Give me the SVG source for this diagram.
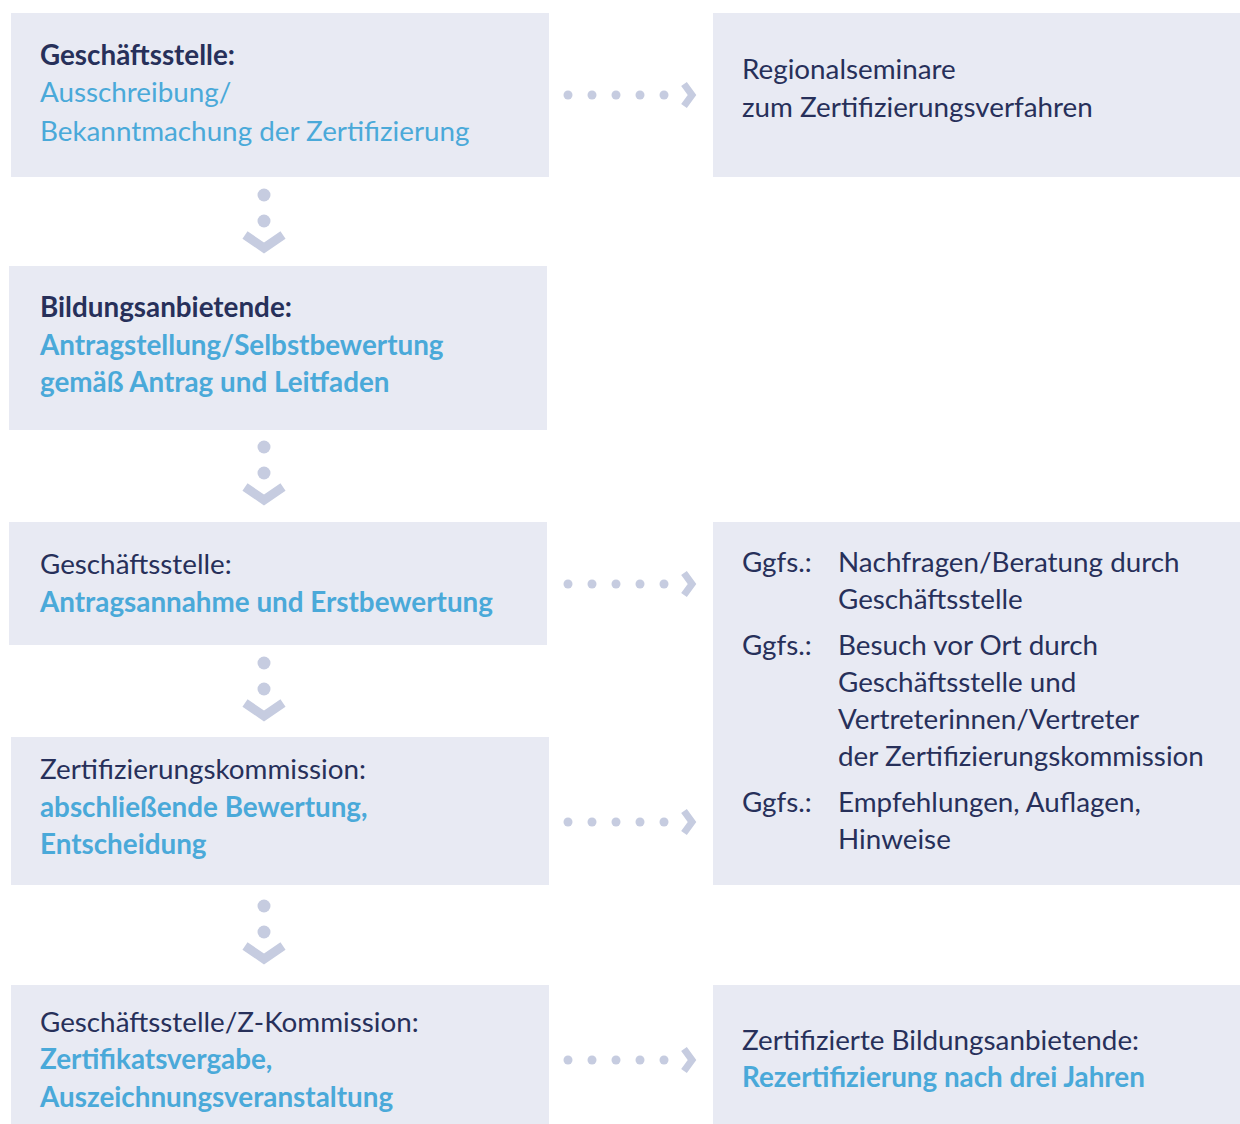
<svg xmlns="http://www.w3.org/2000/svg" width="1240" height="1124" viewBox="0 0 1240 1124">
<style>
.box{fill:#e8eaf3}
text{font-family:Lato,"Noto Sans","DejaVu Sans",sans-serif;font-size:27.8px;fill:#27305a}
.b{font-weight:bold}
.blue{fill:#4aa9d9}
.dot{fill:#c6cce0}
.chev{fill:none;stroke:#c6cce0;stroke-width:7;stroke-linejoin:miter}
</style>
<rect width="1240" height="1124" fill="#ffffff"/>
<g id="n1"><rect class="box" x="11" y="13" width="538" height="164"/>
<text x="40" y="65" class="b">Geschäftsstelle:</text>
<text x="40" y="102" class="blue">Ausschreibung/</text>
<text x="40" y="141" class="blue">Bekanntmachung der Zertifizierung</text></g>
<g id="n2"><rect class="box" x="713" y="13" width="527" height="164"/>
<text x="742" y="79">Regionalseminare</text>
<text x="742" y="117">zum Zertifizierungsverfahren</text></g>
<g id="n3"><rect class="box" x="9" y="266" width="538" height="164"/>
<text x="40" y="317" class="b">Bildungsanbietende:</text>
<text x="40" y="355" class="blue b">Antragstellung/Selbstbewertung</text>
<text x="40" y="392" class="blue b">gemäß Antrag und Leitfaden</text></g>
<g id="n4"><rect class="box" x="9" y="522" width="538" height="123"/>
<text x="40" y="574">Geschäftsstelle:</text>
<text x="40" y="612" class="blue b">Antragsannahme und Erstbewertung</text></g>
<g id="n5"><rect class="box" x="713" y="522" width="527" height="363"/>
<text x="742" y="572">Ggfs.:</text>
<text x="838" y="572">Nachfragen/Beratung durch</text>
<text x="838" y="609">Geschäftsstelle</text>
<text x="742" y="655">Ggfs.:</text>
<text x="838" y="655">Besuch vor Ort durch</text>
<text x="838" y="692">Geschäftsstelle und</text>
<text x="838" y="729">Vertreterinnen/Vertreter</text>
<text x="838" y="766">der Zertifizierungskommission</text>
<text x="742" y="812">Ggfs.:</text>
<text x="838" y="812">Empfehlungen, Auflagen,</text>
<text x="838" y="849">Hinweise</text></g>
<g id="n6"><rect class="box" x="11" y="737" width="538" height="148"/>
<text x="40" y="779">Zertifizierungskommission:</text>
<text x="40" y="817" class="blue b">abschließende Bewertung,</text>
<text x="40" y="854" class="blue b">Entscheidung</text></g>
<g id="n7"><rect class="box" x="11" y="985" width="538" height="139"/>
<text x="40" y="1032">Geschäftsstelle/Z-Kommission:</text>
<text x="40" y="1069" class="blue b">Zertifikatsvergabe,</text>
<text x="40" y="1107" class="blue b">Auszeichnungsveranstaltung</text></g>
<g id="n8"><rect class="box" x="713" y="985" width="527" height="139"/>
<text x="742" y="1050">Zertifizierte Bildungsanbietende:</text>
<text x="742" y="1087" class="blue b">Rezertifizierung nach drei Jahren</text></g>
<g id="connectors">
<g id="h1" transform="translate(0,95)">
<circle class="dot" cx="568" cy="0" r="4.5"/><circle class="dot" cx="592" cy="0" r="4.5"/><circle class="dot" cx="616" cy="0" r="4.5"/><circle class="dot" cx="640" cy="0" r="4.5"/><circle class="dot" cx="664" cy="0" r="4.5"/>
<polyline class="chev" points="684,-11 692,0 684,11"/></g>
<g id="h2" transform="translate(0,584)">
<circle class="dot" cx="568" cy="0" r="4.5"/><circle class="dot" cx="592" cy="0" r="4.5"/><circle class="dot" cx="616" cy="0" r="4.5"/><circle class="dot" cx="640" cy="0" r="4.5"/><circle class="dot" cx="664" cy="0" r="4.5"/>
<polyline class="chev" points="684,-11 692,0 684,11"/></g>
<g id="h3" transform="translate(0,822)">
<circle class="dot" cx="568" cy="0" r="4.5"/><circle class="dot" cx="592" cy="0" r="4.5"/><circle class="dot" cx="616" cy="0" r="4.5"/><circle class="dot" cx="640" cy="0" r="4.5"/><circle class="dot" cx="664" cy="0" r="4.5"/>
<polyline class="chev" points="684,-11 692,0 684,11"/></g>
<g id="h4" transform="translate(0,1060)">
<circle class="dot" cx="568" cy="0" r="4.5"/><circle class="dot" cx="592" cy="0" r="4.5"/><circle class="dot" cx="616" cy="0" r="4.5"/><circle class="dot" cx="640" cy="0" r="4.5"/><circle class="dot" cx="664" cy="0" r="4.5"/>
<polyline class="chev" points="684,-11 692,0 684,11"/></g>
<g id="v1" transform="translate(264,195)">
<circle class="dot" cx="0" cy="0" r="6.5"/><circle class="dot" cx="0" cy="26" r="6.5"/>
<polyline class="chev" style="stroke-width:9" points="-19,40 0,53 19,40"/></g>
<g id="v2" transform="translate(264,447)">
<circle class="dot" cx="0" cy="0" r="6.5"/><circle class="dot" cx="0" cy="26" r="6.5"/>
<polyline class="chev" style="stroke-width:9" points="-19,40 0,53 19,40"/></g>
<g id="v3" transform="translate(264,663)">
<circle class="dot" cx="0" cy="0" r="6.5"/><circle class="dot" cx="0" cy="26" r="6.5"/>
<polyline class="chev" style="stroke-width:9" points="-19,40 0,53 19,40"/></g>
<g id="v4" transform="translate(264,906)">
<circle class="dot" cx="0" cy="0" r="6.5"/><circle class="dot" cx="0" cy="26" r="6.5"/>
<polyline class="chev" style="stroke-width:9" points="-19,40 0,53 19,40"/></g>
</g>
</svg>
